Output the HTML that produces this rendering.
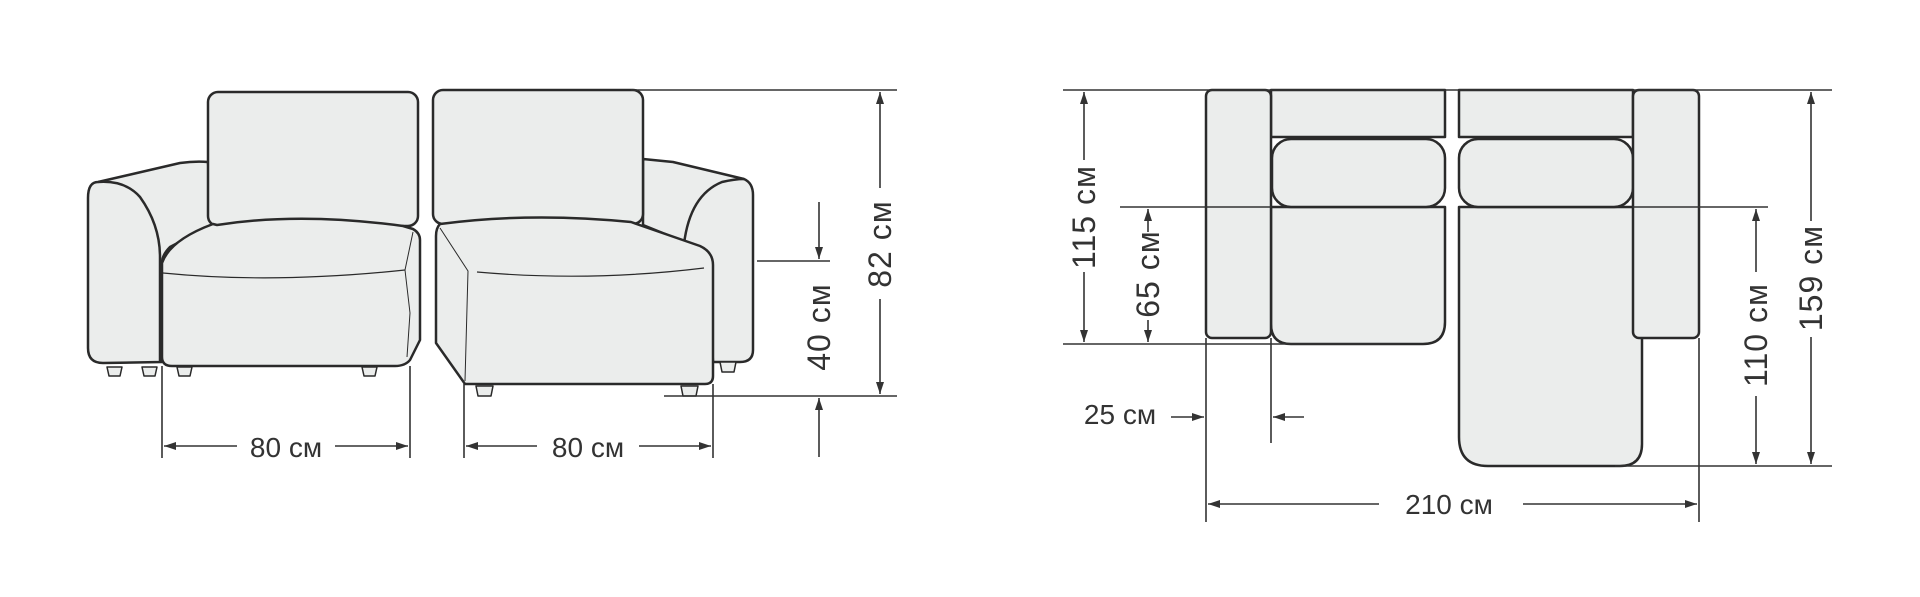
<!DOCTYPE html>
<html><head><meta charset="utf-8"><style>
html,body{margin:0;padding:0;background:#fff;}
svg{display:block;}
text{font-family:"Liberation Sans",sans-serif;fill:#333;}
</style></head><body>
<svg width="1920" height="597" viewBox="0 0 1920 597" xmlns="http://www.w3.org/2000/svg">
<defs>
<marker id="a" viewBox="0 0 12 8" refX="12" refY="4" markerWidth="12" markerHeight="8" markerUnits="userSpaceOnUse" orient="auto">
<path d="M0,0 L12,4 L0,8 Z" fill="#333"/></marker>
</defs>
<g fill="#ebedec" stroke="#2a2a2a" stroke-width="2.5" stroke-linejoin="round">
<!-- LEFT CHAIR -->
<path d="M98,182 L180,163 Q195,161 208,162 L212,225 L170,247 Q162,255 162,263 L162,362 L103,363 Q88,363 88,348 L88,198 Q88,182 98,182 Z"/>
<path d="M98,182 Q125,180 140,197 Q160,225 160,257 L160,363"/>
<rect x="208" y="92" width="210" height="134" rx="10"/>
<path d="M217,225 Q300,212 403,226 L413,229 Q420,233 420,240 L420,340 L410,360 Q405,366 395,366 L172,366 Q162,366 162,357 L162,263 Q170,240 213,224 Z"/>
<path d="M163,273 Q273,284 405,270" fill="none" stroke-width="1.2"/>
<path d="M413,232 L405,270 L410,313 L407,357" fill="none" stroke-width="1"/>
<path d="M107,367 h15 l-2,9 h-11 Z M142,367 h15 l-2,9 h-11 Z M177,367 h15 l-2,9 h-11 Z M362,367 h15 l-2,9 h-11 Z" stroke-width="1.5"/>
<!-- RIGHT CHAIR -->
<path d="M643,159 L673,162 L744,179 Q753,183 753,195 L753,350 Q753,362 740,362 L713,362 L707,251 L643,225 Z"/>
<path d="M684,244 Q690,195 722,182 Q735,179 744,179" fill="none"/>
<rect x="433" y="90" width="210" height="134" rx="10"/>
<path d="M440,224 Q530,212 631,222 L700,246 Q713,252 713,265 L713,376 Q713,384 705,384 L465,384 L436,343 L436,236 Q436,228 440,224 Z"/>
<path d="M477,272 Q590,282 704,268" fill="none" stroke-width="1.2"/>
<path d="M440,228 L468,271 L465,381" fill="none" stroke-width="1"/>
<path d="M476,386 h17 l-2,10 h-13 Z M681,386 h17 l-2,10 h-13 Z M720,362 h16 l-2,10 h-12 Z" stroke-width="1.5"/>
<!-- TOP VIEW left module -->
<path d="M1271,207 L1445,207 L1445,322 Q1445,344 1423,344 L1291,344 Q1271,344 1271,324 Z"/>
<rect x="1271" y="90" width="174" height="47"/>
<rect x="1272" y="139" width="173" height="68" rx="19"/>
<rect x="1206" y="90" width="65" height="248" rx="6"/>
<!-- right module -->
<path d="M1459,207 L1642,207 L1642,444 Q1642,466 1620,466 L1488,466 Q1459,466 1459,437 Z"/>
<rect x="1459" y="90" width="174" height="47"/>
<rect x="1459" y="139" width="174" height="68" rx="19"/>
<rect x="1633" y="90" width="66" height="248" rx="6"/>
</g>
<g stroke="#333" stroke-width="1.6" fill="none">
<!-- left dims -->
<path d="M162,366 V458 M410,366 V458 M464,384 V458 M713,384 V458"/>
<path d="M237,446 H164" marker-end="url(#a)"/><path d="M335,446 H408" marker-end="url(#a)"/>
<path d="M537,446 H466" marker-end="url(#a)"/><path d="M639,446 H711" marker-end="url(#a)"/>
<path d="M631,90 H897 M664,396 H897 M757,261 H830"/>
<path d="M880,188 V92" marker-end="url(#a)"/><path d="M880,299 V394" marker-end="url(#a)"/>
<path d="M819,202 V259" marker-end="url(#a)"/><path d="M819,457 V398" marker-end="url(#a)"/>
<!-- right dims -->
<path d="M1063,90 H1832 M1120,207 H1271 M1063,344 H1400 M1633,207 H1768 M1615,466 H1832"/>
<path d="M1206,338 V522 M1271,338 V443 M1699,338 V522"/>
<path d="M1084,160 V92" marker-end="url(#a)"/><path d="M1084,272 V342" marker-end="url(#a)"/>
<path d="M1148,232 V209" marker-end="url(#a)"/><path d="M1148,320 V342" marker-end="url(#a)"/>
<path d="M1171,417 H1204" marker-end="url(#a)"/><path d="M1304,417 H1273" marker-end="url(#a)"/>
<path d="M1756,272 V209" marker-end="url(#a)"/><path d="M1756,396 V464" marker-end="url(#a)"/>
<path d="M1811,221 V92" marker-end="url(#a)"/><path d="M1811,337 V464" marker-end="url(#a)"/>
<path d="M1379,504 H1208" marker-end="url(#a)"/><path d="M1523,504 H1697" marker-end="url(#a)"/>
</g>
<g font-size="28" text-anchor="middle">
<text x="286" y="457">80 см</text>
<text x="588" y="457">80 см</text>
<text x="1120" y="424">25 см</text>
<text x="1449" y="514">210 см</text>
</g>
<g font-size="32" text-anchor="middle" dominant-baseline="central" letter-spacing="1">
<text transform="translate(880,244) rotate(-90)">82 см</text>
<text transform="translate(819,327) rotate(-90)">40 см</text>
<text transform="translate(1084,217) rotate(-90)">115 см</text>
<text transform="translate(1148,274) rotate(-90)">65 см</text>
<text transform="translate(1756,335) rotate(-90)">110 см</text>
<text transform="translate(1811,278) rotate(-90)">159 см</text>
</g>
</svg>
</body></html>
